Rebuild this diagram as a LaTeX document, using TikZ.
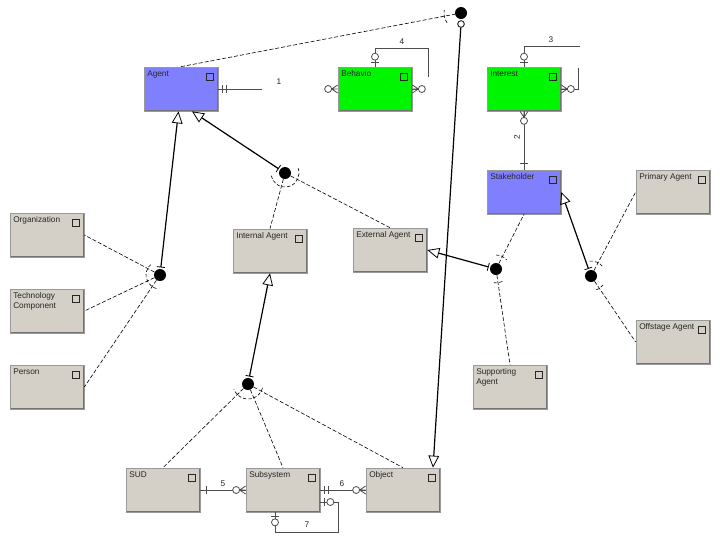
\documentclass[tikz,border=0pt]{standalone}
\usepackage{fontspec}
\setmainfont{Liberation Sans}
\usetikzlibrary{arrows.meta,calc}
\definecolor{agentblue}{RGB}{128,128,255}
\definecolor{goalgreen}{RGB}{0,245,0}
\definecolor{boxgray}{RGB}{212,208,200}
\begin{document}
\begin{tikzpicture}[x=0.75pt,y=0.75pt,yscale=-1,xscale=1,
  every node/.style={font=\fontsize{6.2}{7.4}\selectfont, text=black!85},
  entity/.style={rectangle, fill=#1, draw=black!40, line width=0.5pt,
    minimum width=55.5pt, minimum height=33pt, inner sep=0pt,
    path picture={
      \draw[black!55,line width=1.4pt] (path picture bounding box.south west) -- (path picture bounding box.south east) -- (path picture bounding box.north east);
      \draw[black!85,line width=0.5pt] ($(path picture bounding box.north east)+(-3.75pt,-4.5pt)$) rectangle ++(-5.25pt,-5.25pt);}},
  entity/.default=boxgray,
  tag/.style={anchor=north west, align=left, inner xsep=2.5pt, inner ysep=3pt},
  junction/.style={circle, fill=black, minimum size=9pt, inner sep=0pt},
  link/.style={dash pattern=on 3pt off 1.5pt, line width=0.45pt},
  jarc/.style={dash pattern=on 2.5pt off 1.5pt, line width=0.45pt},
  isa/.style={line width=0.9pt, shorten <=1pt, {Bar[width=6pt,line width=0.6pt]}-{Triangle[open,length=9pt,width=8pt,line width=0.6pt]}},
  rel/.style={draw=black!70, line width=0.6pt},
  relno/.style={inner sep=1pt},
  pics/one/.style={code={\draw[rel] (-6,-4) -- (-6,4);}},
  pics/onlyone/.style={code={\draw[rel] (-4,-4) -- (-4,4) (-8,-4) -- (-8,4);}},
  pics/zeroone/.style={code={\draw[rel] (-4,-4) -- (-4,4); \draw[rel,fill=white] (-10,0) circle (3.5);}},
  pics/zeromany/.style={code={\draw[rel] (-6,0) -- (0,-4) (-6,0) -- (0,4) (-6,0) -- (0,0); \draw[rel,fill=white] (-9.5,0) circle (3.5);}},
]
\fill[white] (0,0) rectangle (720,540);
\useasboundingbox (0,0) rectangle (720,540);

% entities
\node[entity=agentblue, label={[tag]north west:Agent}] (Agent) at (181,89) {};
\node[entity=goalgreen, label={[tag]north west:Behavio}] (Behavior) at (375,89) {};
\node[entity=goalgreen, label={[tag]north west:Interest}] (Interest) at (524,89) {};
\node[entity=agentblue, label={[tag]north west:Stakeholder}] (Stakeholder) at (524,192) {};
\node[entity, label={[tag]north west:Primary Agent}] (PrimaryAgent) at (673,192) {};
\node[entity, label={[tag]north west:Organization}] (Organization) at (47,235) {};
\node[entity, label={[tag]north west:Internal Agent}] (InternalAgent) at (270,251) {};
\node[entity, label={[tag]north west:External Agent}] (ExternalAgent) at (390,250) {};
\node[entity, label={[tag]north west:Technology\\Component}] (TechComponent) at (47,311) {};
\node[entity, label={[tag]north west:Offstage Agent}] (OffstageAgent) at (673,342) {};
\node[entity, label={[tag]north west:Person}] (Person) at (47,387) {};
\node[entity, label={[tag]north west:Supporting\\Agent}] (SupportingAgent) at (510,387) {};
\node[entity, label={[tag]north west:SUD}] (SUD) at (163,490) {};
\node[entity, label={[tag]north west:Subsystem}] (Subsystem) at (283,490) {};
\node[entity, label={[tag]north west:Object}] (Object) at (403,490) {};

% junctions
\node[junction] (jTop) at (461,13) {};
\node[circle, draw, fill=white, minimum size=5pt, inner sep=0pt, line width=0.6pt] (jTopo) at (461,24) {};
\node[junction] (jA) at (285,173) {};
\node[junction] (jB) at (160,275) {};
\node[junction] (jC) at (496,269) {};
\node[junction] (jD) at (591,276) {};
\node[junction] (jE) at (248,384) {};

% generalisations
\draw[link] (Agent.north) -- (jTop);
\draw[line width=0.9pt, -{Triangle[open,length=9pt,width=8pt,line width=0.6pt]}] (jTopo) -- ($(Object.north)+(30,0)$);
\draw[isa] (jB) -- (Agent);
\draw[isa] (jA) -- ($(Agent.south)+(11,0)$);
\draw[isa] (jE) -- (InternalAgent.south);
\draw[isa] (jC) -- (ExternalAgent.east);
\draw[isa] (jD) -- (Stakeholder.east);
\draw[link] (jB) -- (Organization.east);
\draw[link] (jB) -- (TechComponent.east);
\draw[link] (jB) -- (Person.east);
\draw[link] (jA) -- (InternalAgent.north);
\draw[link] (jA) -- (ExternalAgent.north);
\draw[link] (jC) -- (Stakeholder.south);
\draw[link] (jC) -- (SupportingAgent.north);
\draw[link] (jD) -- (PrimaryAgent.west);
\draw[link] (jD) -- (OffstageAgent.west);
\draw[link] (jE) -- (SUD.north);
\draw[link] (jE) -- (Subsystem.north);
\draw[link] (jE) -- (Object.north);

% junction arcs
\draw[jarc] (jTop) ++(145:17) arc (145:190:17);
\draw[jarc] (jA) ++(-20:14) arc (-20:170:14);
\draw[jarc] (jB) ++(105:14) arc (105:235:14);
\draw[jarc] (jC) ++(-90:14) arc (-90:-40:14) (jC) ++(63:14) arc (63:103:14);
\draw[jarc] (jD) ++(-95:15) arc (-95:-40:15) (jD) ++(36:15) arc (36:76:15);
\draw[jarc] (jE) ++(15:15) arc (15:160:15);

% relationship 1
\coordinate (r1) at (262,89);
\draw[rel] (Agent.east) -- (r1);
\pic[rotate=180] at (Agent.east) {onlyone};
\node[relno] at (279,82) {1};

% relationship 4
\draw[rel] (Behavior.north) -- ++(0,-18) -- ++(53,0) -- ++(0,28);
\draw[rel] (Behavior.east) -- ++(12,0);
\pic[rotate=-90] at (Behavior.north) {zeroone};
\pic[rotate=180] at (Behavior.east) {zeromany};
\pic at (Behavior.west) {zeromany};
\node[relno] at (402,42) {4};

% relationship 3
\draw[rel] (Interest.north) -- ++(0,-20) -- ++(56,0);
\draw[rel] (Interest.east) -- ++(17,0) -- ++(0,-21);
\pic[rotate=-90] at (Interest.north) {zeroone};
\pic[rotate=180] at (Interest.east) {zeromany};
\node[relno] at (551,40) {3};

% relationship 2
\draw[rel] (Interest.south) -- (Stakeholder.north);
\pic[rotate=90] at (Interest.south) {zeromany};
\pic[rotate=-90] at (Stakeholder.north) {one};
\node[relno, rotate=90] at (517,137) {2};

% relationship 5
\draw[rel] (SUD) -- (Subsystem);
\pic[rotate=180] at (SUD.east) {one};
\pic at (Subsystem.west) {zeromany};
\node[relno] at (223,484) {5};

% relationship 6
\draw[rel] (Subsystem) -- (Object);
\pic[rotate=180] at (Subsystem.east) {onlyone};
\pic at (Object.west) {zeromany};
\node[relno] at (342,484) {6};

% relationship 7
\coordinate (r7) at (338,502);
\coordinate (r7b) at (275,532);
\draw[rel] (Subsystem.east |- r7) -- (r7) |- (r7b) -- (Subsystem.south -| r7b);
\pic[rotate=180] at (Subsystem.east |- r7) {zeroone};
\pic[rotate=90] at (Subsystem.south -| r7b) {zeroone};
\node[relno] at (307,525) {7};

\end{tikzpicture}
\end{document}
